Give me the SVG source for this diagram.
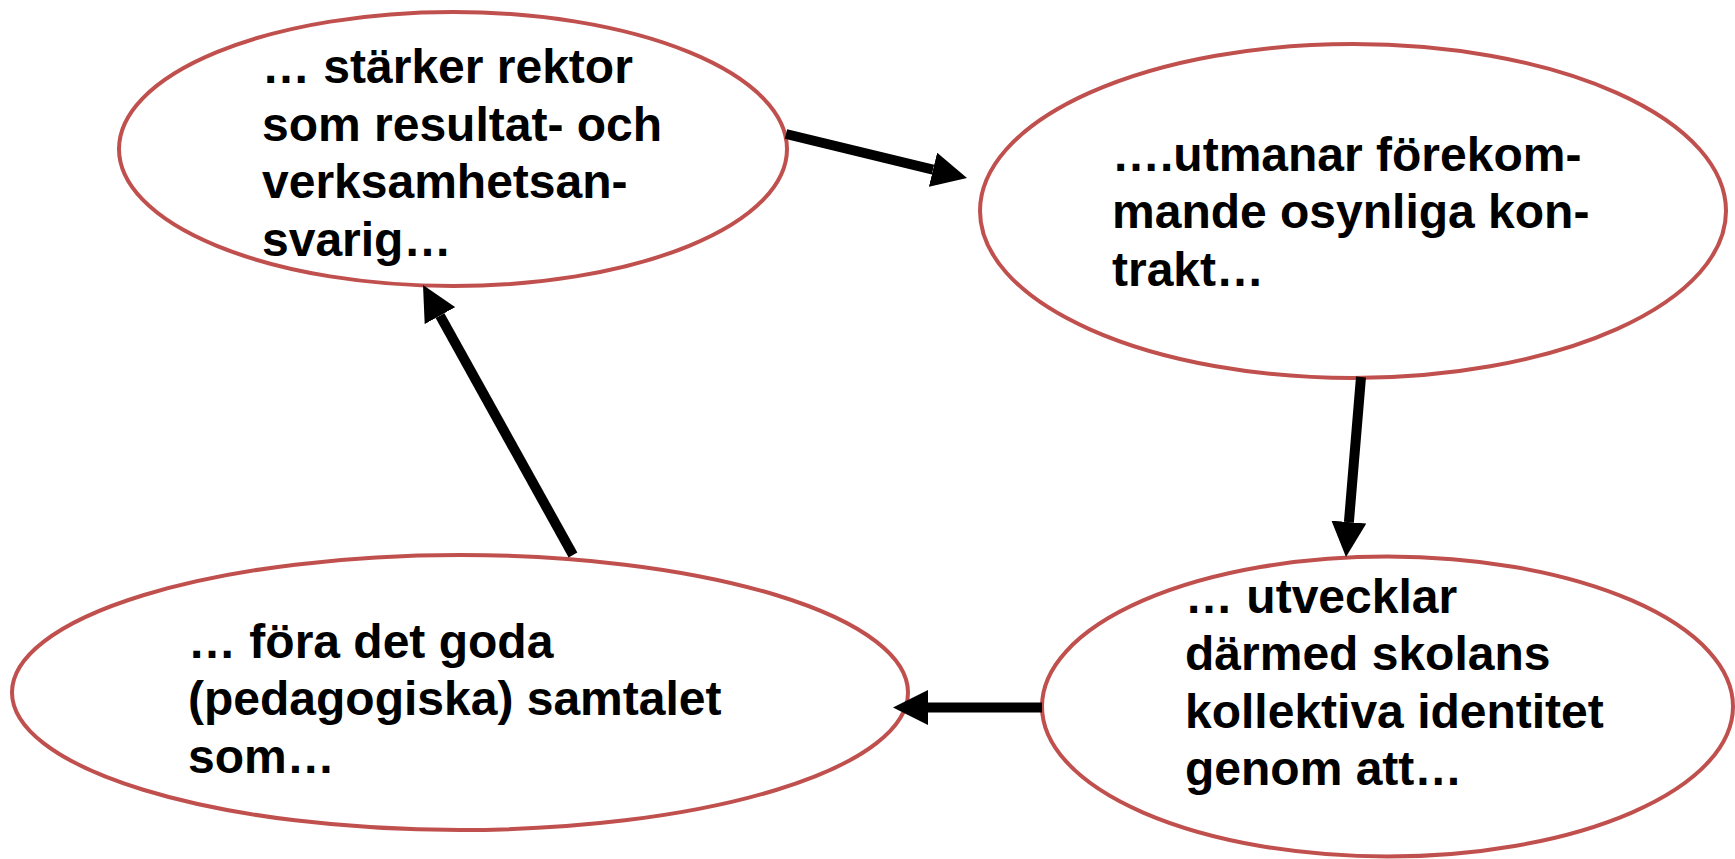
<svg xmlns="http://www.w3.org/2000/svg" width="1735" height="859" viewBox="0 0 1735 859">
<defs>
<style>
.node{fill:#FFFFFF;stroke:#C0504D;stroke-width:4}
.lbl{font-family:"Liberation Sans",Arial,sans-serif;font-weight:bold;font-size:48px;fill:#000000}
.edge{stroke:#000000;stroke-width:10;fill:none;marker-end:url(#arr)}
</style>
<marker id="arr" viewBox="0 0 10 10" refX="0" refY="5" markerWidth="3.5" markerHeight="3.5" orient="auto" markerUnits="strokeWidth">
<path d="M0,0 L10,5 L0,10 Z" fill="#000000"/>
</marker>
</defs>
<rect x="0" y="0" width="1735" height="859" fill="#FFFFFF"/>
<g id="n1">
<ellipse class="node" cx="453" cy="149" rx="334" ry="137"/>
<text class="lbl" x="262"><tspan x="262" y="83">… stärker rektor</tspan><tspan x="262" y="141">som resultat- och</tspan><tspan x="262" y="198">verksamhetsan-</tspan><tspan x="262" y="256">svarig…</tspan></text>
</g>
<g id="n2">
<ellipse class="node" cx="1353" cy="211" rx="373" ry="167"/>
<text class="lbl" x="1112"><tspan x="1112" y="171">….utmanar förekom-</tspan><tspan x="1112" y="228">mande osynliga kon-</tspan><tspan x="1112" y="286">trakt…</tspan></text>
</g>
<g id="n3">
<ellipse class="node" cx="1387.5" cy="706.5" rx="345.5" ry="150"/>
<text class="lbl" x="1185"><tspan x="1185" y="613">… utvecklar</tspan><tspan x="1185" y="670">därmed skolans</tspan><tspan x="1185" y="728">kollektiva identitet</tspan><tspan x="1185" y="785">genom att…</tspan></text>
</g>
<g id="n4">
<ellipse class="node" cx="460" cy="692.5" rx="448" ry="137.5"/>
<text class="lbl" x="188"><tspan x="188" y="658">… föra det goda</tspan><tspan x="188" y="715">(pedagogiska) samtalet</tspan><tspan x="188" y="773">som…</tspan></text>
</g>
<g id="connectors">
<line class="edge" x1="786" y1="134" x2="933" y2="169.7"/>
<line class="edge" x1="1361" y1="377" x2="1348.9" y2="522.1"/>
<line class="edge" x1="1042" y1="707.5" x2="928" y2="707.5"/>
<line class="edge" x1="573" y1="555" x2="440" y2="315.6"/>
</g>
</svg>
